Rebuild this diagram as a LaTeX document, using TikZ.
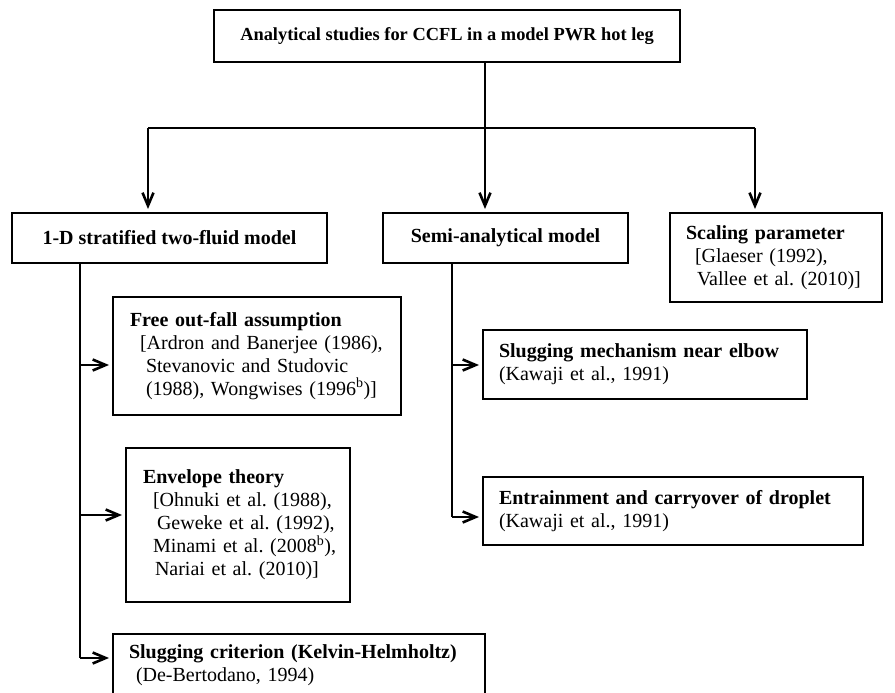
\documentclass[tikz,border=0pt]{standalone}
\usepackage{fontspec}
\setmainfont{Liberation Serif}
\usetikzlibrary{arrows.meta}
\begin{document}
\begin{tikzpicture}[x=1pt,y=-1pt,
  box/.style={draw,line width=2.6pt,rectangle,inner xsep=16pt,inner ysep=0pt,outer sep=0pt,anchor=north west,align=left,font=\fontsize{20}{23}\selectfont\frenchspacing},
  cbox/.style={box,align=center,inner xsep=0pt},
  conn/.style={line width=2.6pt},
  arr/.style={conn,-{Straight Barb[length=13pt,width=11pt,line width=2.6pt]},shorten >=4pt},
]
\useasboundingbox (0,0) rectangle (895,693);

\node[cbox,minimum width=466pt,minimum height=52pt,font=\fontsize{18.4}{22}\selectfont] (top) at (214,10) {\textbf{Analytical studies for CCFL in a model PWR hot leg}};

\node[cbox,minimum width=315pt,minimum height=50pt] (oned) at (12,213) {\textbf{1-D stratified two-fluid model}};
\node[cbox,minimum width=245pt,minimum height=50pt] (semi) at (383,213) {\textbf{Semi-analytical model}};
\node[box,text width=180pt,minimum height=89pt] (scal) at (670,213) {\mbox{\textbf{Scaling parameter}}\\\mbox{\hspace*{9pt}[Glaeser (1992),}\\\mbox{\hspace*{11pt}Vallee et al. (2010)]}};

\node[box,inner xsep=17pt,text width=254pt,minimum height=118pt] (fo) at (113,297) {\mbox{\textbf{Free out-fall assumption}}\\\mbox{\hspace*{10pt}[Ardron and Banerjee (1986),}\\\mbox{\hspace*{16pt}Stevanovic and Studovic}\\\mbox{\hspace*{16pt}(1988), Wongwises (1996\textsuperscript{b})]}};

\node[box,inner xsep=17pt,text width=190pt,minimum height=154pt] (env) at (126,448) {\mbox{\textbf{Envelope theory}}\\\mbox{\hspace*{10pt}[Ohnuki et al. (1988),}\\\mbox{\hspace*{14pt}Geweke et al. (1992),}\\\mbox{\hspace*{10pt}Minami et al. (2008\textsuperscript{b}),}\\\mbox{\hspace*{12pt}Nariai et al. (2010)]}};

\node[box,text width=340pt,minimum height=62pt] (slc) at (113,634) {\mbox{\textbf{Slugging criterion (Kelvin-Helmholtz)}}\\\mbox{\hspace*{7pt}(De-Bertodano, 1994)}};

\node[box,text width=292pt,minimum height=69pt] (slm) at (483,330) {\mbox{\textbf{Slugging mechanism near elbow}}\\\mbox{(Kawaji et al., 1991)}};
\node[box,text width=348pt,minimum height=68pt] (ent) at (483,477) {\mbox{\textbf{Entrainment and carryover of droplet}}\\\mbox{(Kawaji et al., 1991)}};

\coordinate (j) at (485,128);
\coordinate (a1) at (148,128);
\coordinate (a3) at (755,128);
\draw[conn] (top.south -| j) -- (j);
\draw[conn] (a1) -- (a3);
\draw[arr] (a1) -- (a1 |- oned.north);
\draw[arr] (j) -- (j |- semi.north);
\draw[arr] (a3) -- (a3 |- scal.north);

\coordinate (L) at (80,658);
\draw[conn] (oned.south -| L) -- (L);
\draw[arr] (80,365) -- (fo.west |- 0,365);
\draw[arr] (80,515) -- (env.west |- 0,515);
\draw[arr] (L) -- (slc.west |- L);

\coordinate (S) at (452,517);
\draw[conn] (semi.south -| S) -- (S);
\draw[arr] (452,365) -- (slm.west |- 0,365);
\draw[arr] (S) -- (ent.west |- S);
\end{tikzpicture}
\end{document}
